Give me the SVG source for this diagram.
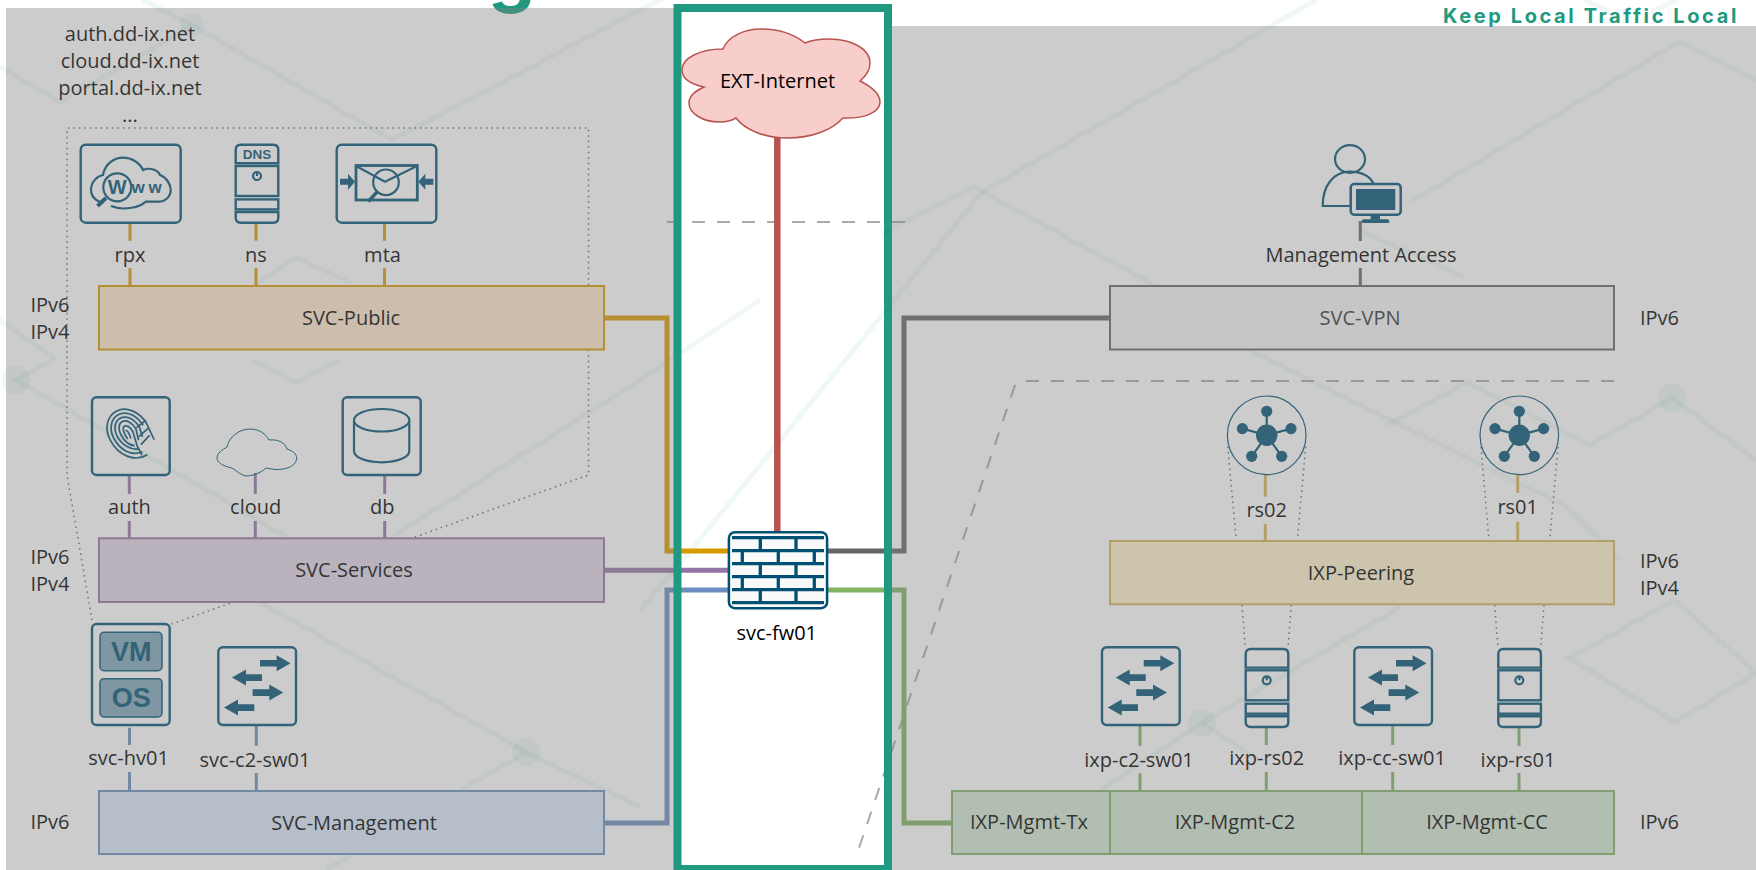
<svg xmlns="http://www.w3.org/2000/svg" width="1756" height="870" viewBox="0 0 1756 870">
<style>
text{font-family:"Open Sans","Noto Sans",sans-serif;font-size:20px;fill:#000;text-anchor:middle}
text.l{text-anchor:start}
text.b{font-family:"Liberation Sans",Arial,sans-serif;font-weight:700;fill:#005073}
.ic{fill:none;stroke:#005073;stroke-width:2.2}
.sol{fill:#005073;stroke:none}
.box{fill:none;stroke:#005073;stroke-width:2.4}
.bar{stroke-width:2}
.link{fill:none;stroke-width:3}
.trunk{fill:none;stroke-width:5}
.dot{fill:none;stroke:#666;stroke-width:1.5;stroke-dasharray:1.5 4}
.dash{fill:none;stroke:#aaa;stroke-width:2;stroke-dasharray:13 12}
.pat{fill:none;stroke:#1f9a80;stroke-opacity:.07;stroke-width:5}
.or{stroke:#d79b00}.pu{stroke:#9673a6}.bl{stroke:#6c8ebf}.gr{stroke:#82b366}.ye{stroke:#d6b656}.gy{stroke:#666}
</style>
<defs>
<g id="switch">
<rect class="box" x="0" y="0" width="77.7" height="77.7" rx="4.5"/>
<path class="sol" d="M41.7,12.7H58.300V8L72.300,16L58.300,24V19.300H41.700Z"/>
<path class="sol" d="M43.700,27H27.700V22.300L13.700,30.300L27.700,38.300V33.600H43.700Z"/>
<path class="sol" d="M34.300,42H51V37.300L65,45.300L51,53.300V48.600H34.300Z"/>
<path class="sol" d="M36,57H19.700V52.300L5.700,60.300L19.700,68.300V63.600H36Z"/>
</g>
<g id="server">
<path class="box" d="M0,18.600V5Q0,0 5,0H37.600Q42.600,0 42.600,5V18.600Z"/>
<rect class="box" x="0" y="21.300" width="42.600" height="30"/>
<rect class="box" x="0" y="54.700" width="42.600" height="10"/>
<path class="box" d="M0,67.300H42.600V73Q42.600,78 37.600,78H5Q0,78 0,73Z"/>
</g>
<g id="power"><circle class="ic" cx="0" cy="0" r="4" stroke-width="1.400"/><path class="ic" d="M0,-4V0" stroke-width="1.400"/></g>
<g id="hub">
<circle cx="0" cy="0" r="39.300" fill="none" stroke="#005073" stroke-width="1.200"/>
<path fill="none" stroke="#005073" stroke-width="2.200" d="M0,0V-24M0,0L-24.300,-6.700M0,0L24.300,-6.700M0,0L-15,21M0,0L15,21"/>
<circle class="sol" r="10.700"/><circle class="sol" cx="0" cy="-24" r="5.600"/><circle class="sol" cx="-24.300" cy="-6.700" r="5.600"/><circle class="sol" cx="24.300" cy="-6.700" r="5.600"/><circle class="sol" cx="-15" cy="21" r="5.600"/><circle class="sol" cx="15" cy="21" r="5.600"/>
</g>
</defs>

<rect width="1756" height="870" fill="#fff"/>
<g id="background">
<path class="pat" d="M143,0L192,25L392,140L640,10L720,-30"/>
<path class="pat" d="M0,67L61,102L192,25"/>
<path class="pat" d="M253,287L296,257L351,283"/>
<path class="pat" d="M0,320L57,360"/>
<path class="pat" d="M53,360L16,380L86,420L220,498L287,537"/>
<path class="pat" d="M261,603L526,752L640,807"/>
<path class="pat" d="M526,752L461,790L326,870"/>
<path class="pat" d="M253,360L296,383L339,360"/>
<path class="pat" d="M392,537L640,380L760,300"/>
<path class="pat" d="M1316,0L982,192L683,560L640,610"/>
<path class="pat" d="M882,233L974,187L1145,280L1220,340"/>
<path class="pat" d="M1409,203L1679,42L1756,80"/>
<path class="pat" d="M1359,230L1465,277"/>
<path class="pat" d="M1250,350L1567,507L1620,560"/>
<path class="pat" d="M1387,425L1467,382L1590,445L1672,398L1756,460"/>
<path class="pat" d="M1675,600L1569,658L1675,722L1756,673L1675,600"/>
<path class="pat" d="M1202,723L1400,607"/>
<path class="pat" d="M1202,723L1259,760M1202,723L1100,790"/>
<path class="pat" d="M1585,0L1610,12M1650,12L1677,0"/>
<circle cx="16" cy="380" r="14" fill="#1f9a80" fill-opacity=".07"/>
<circle cx="526" cy="752" r="14" fill="#1f9a80" fill-opacity=".07"/>
<circle cx="1202" cy="723" r="14" fill="#1f9a80" fill-opacity=".07"/>
<circle cx="1672" cy="398" r="14" fill="#1f9a80" fill-opacity=".07"/>
<circle cx="192" cy="25" r="12" fill="#1f9a80" fill-opacity=".07"/>
<text x="488" y="-2" style="font-family:Inter,'Liberation Sans',sans-serif;font-size:75px;font-weight:700;fill:#1f9a80;text-anchor:start">g</text>
<text class="l" x="1443" y="23" style="font-family:Inter,'Liberation Sans',sans-serif;font-size:20px;font-weight:700;fill:#1f9a80;letter-spacing:2.600px">Keep Local Traffic Local</text>
</g>

<g id="zones">
<path class="dot" d="M92,620L67,475V128H588.500V475L169,625"/>
<path class="dot" d="M1227.700,446.700L1236,537M1305.700,446.700L1297.700,537"/>
<path class="dot" d="M1481,447L1488.700,537M1558,447L1550,537"/>
<path class="dot" d="M1242,605L1245.300,648M1291.300,605L1288,648"/>
<path class="dot" d="M1494.700,605L1498,648M1544,605L1540.700,648"/>
<path class="dash" d="M1614,381H1024Q1016,381 1014,388L857,854"/>
<path class="dash" d="M667,222H907"/>
</g>

<g id="connectors">
<path class="trunk or" d="M604,318H667V551H730"/>
<path class="trunk pu" d="M604,570.300H730"/>
<path class="trunk bl" d="M604,823H667V590H730"/>
<path class="trunk gy" d="M826,551H904V318H1110"/>
<path class="trunk gr" d="M826,590H904V823H952"/>
<path fill="none" stroke="#b85450" stroke-width="6.500" d="M777.300,137V532"/>
<path class="link or" d="M130,222.700V240.700M130,268.300V286M256,222.700V240.700M256,268.300V286M384.500,222.700V240.700M384.500,268.300V286"/>
<path class="link pu" d="M129.300,475V494M129.300,521V538M255.300,473V494M255.300,521V538M384.700,475V494M384.700,521V538"/>
<path class="link bl" d="M129.500,727.700V745M129.500,772V791M256.300,725.700V745.700M256.300,773V791"/>
<path class="link gr" d="M1140,726V745.700M1140,773.300V791M1266.300,726V745M1266.300,772V791M1392.700,726V745M1392.700,772V791M1519,727V746M1519,773V791"/>
<path class="link ye" d="M1265.300,475V496.700M1265.300,524V541M1517.700,475V493M1517.700,521.700V541"/>
<path class="link gy" d="M1360.300,221V241M1360.300,268V286"/>
</g>

<g id="domains">
<text x="130" y="41">auth.dd-ix.net</text>
<text x="130" y="68">cloud.dd-ix.net</text>
<text x="130" y="95">portal.dd-ix.net</text>
<text x="130" y="122">...</text>
</g>

<g id="svc-public">
<rect class="bar" x="99" y="286" width="505" height="63.500" fill="#ffe6cc" stroke="#d79b00"/>
<text x="351" y="325">SVC-Public</text>
<text class="l" x="30.500" y="312">IPv6</text><text class="l" x="30.500" y="339">IPv4</text>
</g>
<g id="svc-services">
<rect class="bar" x="99" y="538.300" width="505" height="63.700" fill="#e1d5e7" stroke="#9673a6"/>
<text x="354" y="577">SVC-Services</text>
<text class="l" x="30.500" y="564">IPv6</text><text class="l" x="30.500" y="591">IPv4</text>
</g>
<g id="svc-management">
<rect class="bar" x="99" y="791" width="505" height="63" fill="#dae8fc" stroke="#6c8ebf"/>
<text x="354" y="830">SVC-Management</text>
<text class="l" x="30.500" y="829">IPv6</text>
</g>
<g id="svc-vpn">
<rect class="bar" x="1110" y="286" width="504" height="63.500" fill="#f5f5f5" stroke="#666"/>
<text x="1360" y="325" style="fill:#333">SVC-VPN</text>
<text class="l" x="1640" y="325">IPv6</text>
</g>
<g id="ixp-peering">
<rect class="bar" x="1110" y="541" width="504" height="63.300" fill="#fff2cc" stroke="#d6b656"/>
<text x="1361" y="580">IXP-Peering</text>
<text class="l" x="1640" y="568">IPv6</text><text class="l" x="1640" y="595">IPv4</text>
</g>
<g id="ixp-mgmt">
<rect class="bar" x="952" y="791" width="158" height="63" fill="#d5e8d4" stroke="#82b366"/>
<rect class="bar" x="1110" y="791" width="252" height="63" fill="#d5e8d4" stroke="#82b366"/>
<rect class="bar" x="1362" y="791" width="252" height="63" fill="#d5e8d4" stroke="#82b366"/>
<text x="1029" y="829">IXP-Mgmt-Tx</text>
<text x="1235" y="829">IXP-Mgmt-C2</text>
<text x="1487" y="829">IXP-Mgmt-CC</text>
<text class="l" x="1640" y="829">IPv6</text>
</g>

<g id="rpx">
<rect class="box" x="80.700" y="144.700" width="100" height="78" rx="5"/>
<path class="ic" d="M100,202C93,199 91,195 91,190C91,182 97,176 103,175C105,164 114,157.700 123,157.700C132,157.700 140,163 143,170C150,167 158,170 160,175C166,177 170.700,184 170.700,190C170.700,197 165,201.700 158,201.700H146C141,206 132,208.500 123,208.500C119,208.500 115,207.500 111,206"/>
<circle class="ic" cx="117.300" cy="187.300" r="14"/>
<path fill="none" stroke="#005073" stroke-width="4" d="M106,198L97.500,206"/>
<text class="b" x="117.300" y="194" style="font-size:20px">W</text>
<text class="b" x="138" y="193" style="font-size:17px">w</text>
<text class="b" x="155" y="193" style="font-size:17px">w</text>
<text x="130" y="262">rpx</text>
</g>
<g id="ns">
<use href="#server" x="235.700" y="144.700"/>
<use href="#power" x="257" y="176"/>
<text class="b" x="257" y="159.300" style="font-size:13.500px">DNS</text>
<text x="256" y="262">ns</text>
</g>
<g id="mta">
<rect class="box" x="336.700" y="144.700" width="99.600" height="78" rx="5"/>
<rect x="356" y="165.500" width="61.300" height="34.500" fill="none" stroke="#005073" stroke-width="2.800"/>
<path class="ic" d="M356,166L385,181.700L417,166"/>
<circle class="ic" cx="386" cy="182.300" r="12.800"/>
<path fill="none" stroke="#005073" stroke-width="3.500" d="M377,192L368.300,201.500"/>
<path class="sol" d="M340,178.700H348V173.700L355,181.700L348,189.700V184.700H340Z"/>
<path class="sol" d="M433.300,178.700H425.300V173.700L418.300,181.700L425.300,189.700V184.700H433.300Z"/>
<text x="382.500" y="262">mta</text>
</g>
<g id="auth">
<rect class="box" x="92" y="397.300" width="77.700" height="77.700" rx="4.500"/>
<g transform="translate(129,435) rotate(-28)" fill="none" stroke="#005073" stroke-width="1.700">
<path d="M7,26C-8,27 -19,13 -19,-4C-19,-18 -10,-27 0,-27C11,-27 20,-16 21,-2L20,16"/>
<path d="M4,21C-8,20 -15,9 -15,-4C-15,-15 -8,-23 0,-23C9,-23 16,-14 17,-2"/>
<path d="M2,17C-6,14 -11,5 -11,-4C-11,-13 -6,-19 0,-19C7,-19 12,-12 13,-2L11,8"/>
<path d="M0,12C-5,9 -7,2 -7,-4C-7,-10 -4,-15 0,-15C5,-15 9,-9 9,-2L6,9"/>
<path d="M-3,3C-4,-2 -3,-10 0,-10C3,-10 5,-6 5,-1L2,14V24"/>
<path d="M-1,-5C1,-6 1,0 0,4"/>
<path d="M10,-3L22,-5M8,6L20,3M6,14L18,10"/>
</g>
<text x="129.500" y="514">auth</text>
</g>
<g id="cloud">
<path d="M232,468C222,466 217,462 217,458C217,453 222,450 227,447C229,437 239,429 250,429C259,429 266,434 269,440C279,439 285,443 287,449C293,451 296.700,454 296.700,458C296.700,465 288,470 275,469.500L266,468C261,473 252,476 246,476C240,475 236,470 232,468Z" fill="none" stroke="#005073" stroke-width="1"/>
<text x="255.700" y="514">cloud</text>
</g>
<g id="db">
<rect class="box" x="342.700" y="397.300" width="78" height="77.700" rx="4.500"/>
<path class="ic" d="M354,420.300C354,414 366,409 381.700,409C397,409 409.300,414 409.300,420.300C409.300,426.500 397,431.500 381.700,431.500C366,431.500 354,426.500 354,420.300ZM354,420.300V451C354,457.500 366,462.300 381.700,462.300C397,462.300 409.300,457.500 409.300,451V420.300"/>
<text x="382.300" y="514">db</text>
</g>
<g id="svc-hv01">
<rect class="box" x="92" y="624" width="77.700" height="101" rx="4.500"/>
<rect x="100" y="632.300" width="62" height="38.400" rx="4" fill="#005073" fill-opacity=".5" stroke="#005073" stroke-width="1.500"/>
<rect x="100" y="678.700" width="62" height="38.300" rx="4" fill="#005073" fill-opacity=".5" stroke="#005073" stroke-width="1.500"/>
<text class="b" x="131.300" y="660.700" style="font-size:27px">VM</text>
<text class="b" x="131.300" y="706.700" style="font-size:27px">OS</text>
<text x="128.600" y="765">svc-hv01</text>
</g>
<g id="svc-c2-sw01">
<use href="#switch" x="218.300" y="647.300"/>
<text x="255" y="766.700">svc-c2-sw01</text>
</g>
<g id="ixp-c2-sw01">
<use href="#switch" x="1102" y="647.300"/>
<text x="1139" y="766.700">ixp-c2-sw01</text>
</g>
<g id="ixp-rs02">
<use href="#server" x="1245.700" y="649"/>
<use href="#power" x="1266.700" y="680.300"/>
<text x="1266.700" y="765">ixp-rs02</text>
</g>
<g id="ixp-cc-sw01">
<use href="#switch" x="1354.300" y="647.300"/>
<text x="1392" y="765">ixp-cc-sw01</text>
</g>
<g id="ixp-rs01">
<use href="#server" x="1498.300" y="649"/>
<use href="#power" x="1519.300" y="680.300"/>
<text x="1518" y="766.700">ixp-rs01</text>
</g>
<g id="rs02">
<use href="#hub" x="1266.700" y="435.300"/>
<text x="1266.700" y="517">rs02</text>
</g>
<g id="rs01">
<use href="#hub" x="1519.300" y="435.300"/>
<text x="1517.700" y="514">rs01</text>
</g>
<g id="management-access">
<ellipse class="ic" cx="1350" cy="159" rx="15" ry="13.800"/>
<path class="ic" d="M1373.300,183.300C1370,176 1361,171.700 1350,171.700C1334,171.700 1322.700,185 1322.700,206H1350.700"/>
<rect x="1350.700" y="184" width="50" height="30.700" rx="3.500" fill="#fff" stroke="#005073" stroke-width="2.500"/>
<rect class="sol" x="1356" y="189" width="39.300" height="21"/>
<rect class="sol" x="1370.700" y="214.700" width="9.300" height="5"/>
<rect class="sol" x="1361.700" y="219.300" width="27.600" height="3.800" rx="1.900"/>
<text x="1361" y="261.700">Management Access</text>
</g>

<g id="svc-fw01">
<rect x="728.900" y="532.200" width="98.200" height="76" rx="6" fill="#fafafa" stroke="#005073" stroke-width="2.500"/>
<path fill="none" stroke="#005073" stroke-width="3.300" d="M732,537.700H824M732,550.700H824M732,563.700H824M732,576.700H824M732,589.700H824M732,602.700H824M760.300,537.700V550.700M796,537.700V550.700M742.300,550.700V563.700M778.300,550.700V563.700M814.300,550.700V563.700M760.300,563.700V576.700M796,563.700V576.700M742.300,576.700V589.700M778.300,576.700V589.700M814.300,576.700V589.700M760.300,589.700V602.700M796,589.700V602.700"/>
<text x="776.700" y="640">svc-fw01</text>
</g>
<g id="ext-internet">
<path d="M723,49C728,36 745,29 761,29C780,29 795,35 805,43C812,40 820,39 829,39C852,39 870,49 870,63C870,70 866,76 860,81C872,87 880,94 880,102C880,112 865,119 843,118C832,130 812,138 787,138C765,138 745,130 736,118C731,121 726,122 720,122C702,122 689,113 689,103C689,96 695,91 704,87C690,84 682,78 682,70C682,58 700,49 723,49Z" fill="#f8cecc" stroke="#b85450" stroke-width="1.500"/>
<text x="777.500" y="88">EXT-Internet</text>
</g>

<path id="dim" fill="#808080" fill-opacity=".4" d="M6,8H677V870H6ZM888,26H1756V870H888Z"/>
<rect id="frame" x="677.500" y="8" width="210.500" height="861" fill="none" stroke="#1f9a80" stroke-width="8"/>
</svg>
